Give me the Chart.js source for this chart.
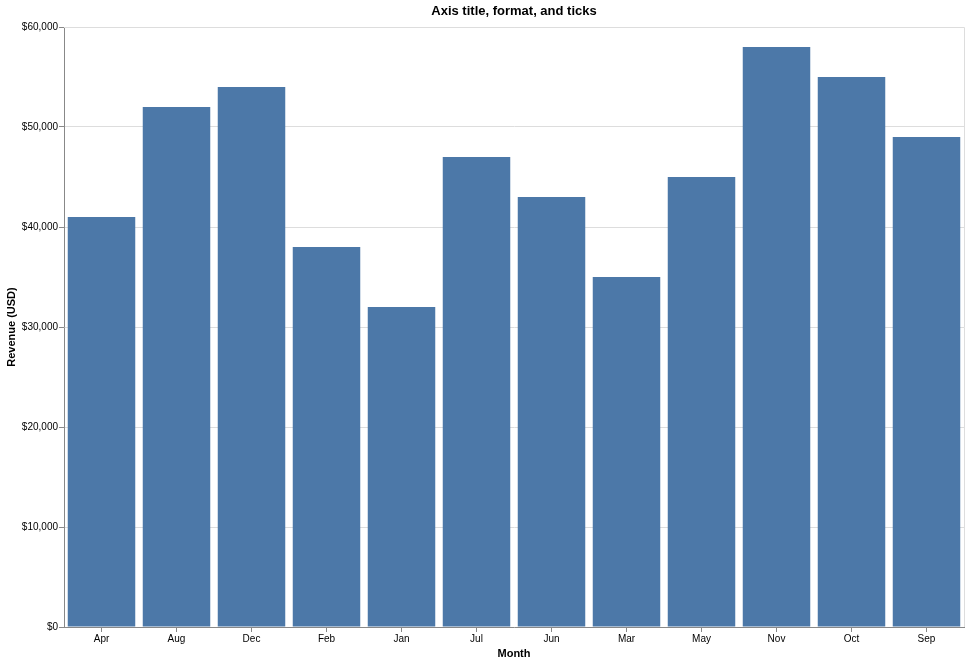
<!DOCTYPE html>
<html><head><meta charset="utf-8">
<script src="https://cdn.jsdelivr.net/npm/chart.js@4/dist/chart.umd.min.js"></script>
<style>html,body{margin:0;padding:0;background:#fff}#wrap{width:969px;height:664px}</style>
</head><body><div id="wrap"><canvas id="c" width="969" height="664"></canvas></div>
<script>
const months = ["Apr","Aug","Dec","Feb","Jan","Jul","Jun","Mar","May","Nov","Oct","Sep"];
const revenue = [41000,52000,54000,38000,32000,47000,43000,35000,45000,58000,55000,49000];
const yTicks = [0,10000,20000,30000,40000,50000,60000];
const chartTitle = "Axis title, format, and ticks";
const xTitle = "Month";
const yTitle = "Revenue (USD)";

const FONT = "'Liberation Sans', Arial, sans-serif";
const fmt = v => "$" + v.toLocaleString("en-US");

const frame = {
  id: "frame",
  afterDraw(chart) {
    const {ctx, chartArea: a} = chart;
    ctx.save();
    ctx.strokeStyle = "#ddd"; ctx.lineWidth = 1;
    ctx.beginPath();
    ctx.moveTo(a.left, a.top + 0.5); ctx.lineTo(a.right + 0.5, a.top + 0.5); ctx.lineTo(a.right + 0.5, a.bottom);
    ctx.stroke();
    ctx.fillStyle = "#000";
    ctx.font = "bold 13px " + FONT;
    ctx.textAlign = "center"; ctx.textBaseline = "middle";
    ctx.fillText(chartTitle, (a.left + a.right) / 2, 11);
    ctx.font = "bold 11px " + FONT;
    ctx.fillText(xTitle, (a.left + a.right) / 2, 654);
    ctx.translate(12, (a.top + a.bottom) / 2);
    ctx.rotate(-Math.PI / 2);
    ctx.fillText(yTitle, 0, 0);
    ctx.restore();
  }
};

new Chart(document.getElementById("c"), {
  type: "bar",
  data: { labels: months, datasets: [{ data: revenue, backgroundColor: "#4c78a8", categoryPercentage: 1, barPercentage: 0.9 }] },
  options: {
    responsive: false, animation: false, devicePixelRatio: 1,
    layout: { padding: { left: 0, right: 5, top: 27, bottom: 0 } },
    plugins: { legend: { display: false }, tooltip: { enabled: false }, title: { display: false } },
    scales: {
      x: {
        afterFit(s) { s.height = 37; },
        grid: { display: true, drawOnChartArea: false, offset: false, tickLength: 5, tickColor: "#888" },
        border: { color: "#888" },
        ticks: { color: "#000", font: { family: FONT, size: 10 }, padding: 1, maxRotation: 0 }
      },
      y: {
        min: 0, max: 60000,
        afterFit(s) { s.width = 64; },
        afterBuildTicks(s) { s.ticks = yTicks.map(v => ({ value: v })); },
        grid: { color: "#ddd", tickLength: 5, tickColor: "#888" },
        border: { color: "#888" },
        ticks: { color: "#000", font: { family: FONT, size: 10 }, padding: 1, callback: v => fmt(v) }
      }
    }
  },
  plugins: [frame]
});
</script></body></html>
